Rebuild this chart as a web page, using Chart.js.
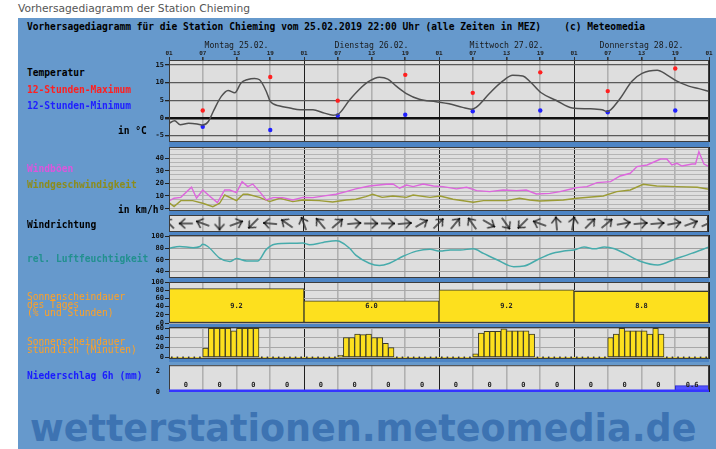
<!DOCTYPE html>
<html>
<head>
<meta charset="utf-8">
<script src="https://cdn.jsdelivr.net/npm/chart.js@4.4.1/dist/chart.umd.min.js"></script>
<style>
  body { margin: 0; width: 716px; height: 449px; overflow: hidden; background: #fff; position: relative; }
  #title { position: absolute; left: 18px; top: 2px; font: 10.7px "DejaVu Sans", sans-serif; color: #555; }
  #frameBg { position: absolute; left: 18px; top: 18px; width: 698px; height: 431px; background: #6699cc; }
  #bands { position: absolute; left: 169px; top: 142px; width: 540px; height: 220px; background: #4d85c5; }
  #watermark { position: absolute; left: 30px; top: 410px; font: bold 36.5px "DejaVu Sans", sans-serif; line-height: 37px; color: #3d73b2; white-space: pre; }
  .lbl { position: absolute; font: bold 9.6px "DejaVu Sans Mono", monospace; line-height: 10px; white-space: pre; }
  .thin { font-weight: normal; line-height: 8.3px; }
  canvas { position: absolute; }
</style>
</head>
<body>
<div id="title">Vorhersagediagramm der Station Chieming</div>
<div id="frameBg"></div>
<div id="bands"></div>
<div id="watermark">wetterstationen.meteomedia.de</div>

<script>
// --------------
// DATA (hours counted from Montag 01:00)
// --------------
const days = ['Montag 25.02.', 'Dienstag 26.02.', 'Mittwoch 27.02.', 'Donnerstag 28.02.'];
const dayCenters = [12, 36, 60, 84];
const hourLabels = ['01', '07', '13', '19'];
const timeTicks = [0, 6, 12, 18, 24, 30, 36, 42, 48, 54, 60, 66, 72, 78, 84, 90, 96];

const tempHours = [0, 1, 2, 3.5, 5, 6, 7, 8, 9.3, 10.5, 11.7, 12.8, 14, 15.2, 16.1, 17.3, 18, 19.7, 21.5, 23.3,
  25.6, 27.4, 29.2, 30, 32.1, 33.9, 35.6, 37.4, 38.9, 40.4, 42.2, 44.5, 47.5, 49.8, 52.2, 53.7, 54.6, 57, 59.3,
  61.1, 62.9, 64.3, 66.1, 68.8, 71.7, 74.6, 77, 77.9, 80, 82.3, 84.1, 86.8, 88.5, 90.3, 92.4, 94.2, 96];
const tempValues = [-1.5, -0.8, -1.9, -1.5, -1.7, -2.0, -1.0, 2.3, 6.1, 7.8, 7.1, 9.9, 10.9, 11.2, 10.8, 7.5, 4.7, 3.4, 2.8, 2.3,
  2.3, 1.5, 0.8, 1.0, 5.1, 8.2, 10.4, 11.5, 11.0, 9.0, 6.9, 5.3, 4.6, 4.0, 3.0, 2.5, 3.0, 7.0, 10.4,
  12.1, 11.9, 10.1, 7.2, 5.0, 2.8, 2.6, 2.3, 1.8, 5.1, 10.4, 12.6, 13.5, 12.2, 10.4, 9.0, 8.3, 7.5];
const extremeHours = [6, 18, 30, 42, 54, 66, 78, 90];
const maxValues = [2.1, 11.6, 4.9, 12.2, 7.1, 12.9, 7.6, 14.0];
const minValues = [-2.5, -3.4, 0.7, 0.9, 1.9, 2.1, 1.6, 2.1];
const tempTicks = [-5, 0, 5, 10, 15];

const gustHours = [0, 0.9, 2.1, 4, 4.9, 6, 7.2, 8.6, 9.9, 10.8, 12, 13, 14, 14.9, 16.1, 17.3, 18.5, 20.2, 22, 23.8,
  25.6, 27.9, 29.7, 31.5, 33.2, 35.6, 38.6, 39.8, 41, 42.2, 43.4, 45.2, 47, 48.7, 51.1, 52.9, 54.7, 57, 59.4,
  61.8, 63.5, 65.3, 67.7, 69.5, 71.3, 72.5, 74.3, 76.1, 78.5, 80.2, 82, 83.2, 85, 87.4, 88.5, 89.4, 90.3, 91.2,
  93, 93.6, 94.2, 95.1, 96];
const gustValues = [5.8, 8, 8.7, 16.8, 8, 14.6, 9.8, 4.5, 14.6, 14.6, 12.5, 21.3, 17.3, 19.4, 13.3, 6.6, 8.5, 8.5, 6.6, 8.7,
  8.5, 10.1, 11.2, 13.3, 15.5, 17.8, 19.2, 19.4, 16, 18.6, 17.3, 19.4, 17.8, 17.3, 15.5, 16.8, 14.1, 13.3, 14.6,
  14.1, 14.6, 11.4, 11.9, 13.3, 15.2, 16.5, 17.3, 20.5, 21.3, 25.8, 28, 33.3, 34.6, 39.4, 39.4, 34.6, 35.9, 33.8,
  35.4, 35.4, 45.3, 35.4, 33.3];
const windHours = [0, 0.9, 2.1, 4.2, 6, 7.8, 9, 9.9, 12, 13.2, 14, 16.1, 17.9, 19.7, 22, 23.8, 26.7, 29.1, 31.5,
  33.2, 35, 36.2, 37.9, 39.8, 42.2, 43.4, 46.4, 48.2, 50.5, 54.1, 55.9, 60, 62.3, 64.1, 65.9, 70.1, 72.5, 77.2,
  79.6, 82, 84.3, 86.7, 90.3, 93.9, 96];
const windValues = [4.5, 1.3, 6.1, 6.1, 4, 1.3, 4, 10.6, 6.1, 11.2, 11.2, 8.7, 5.3, 8, 5.3, 6.6, 6.1, 5, 6.6,
  7.2, 9.3, 11.2, 8.7, 9.8, 8.7, 10.6, 8.7, 9.8, 7.2, 4.8, 6.1, 6.1, 8, 6.6, 5.8, 6.6, 8, 9.8,
  13.3, 14.6, 19.2, 17.8, 17.3, 16.8, 15.2];
const windTicks = [0, 3.333, 6.667, 10, 13.333, 16.667, 20, 23.333, 26.667, 30, 33.333, 36.667, 40, 43.333, 46.667];

// arrow heading in compass degrees (direction the arrow points)
const dirHours = [0, 3, 6, 9, 12, 15, 18, 21, 24, 27, 30, 33, 36, 39, 42, 45, 48, 51, 54, 57, 60, 63, 66, 69, 72,
  75, 78, 81, 84, 87, 90, 93, 96];
const dirHeading = [315, 270, 290, 180, 70, 225, 275, 305, 340, 320, 50, 85, 90, 90, 85, 60, 45, 40, 325, 120, 145,
  225, 290, 355, 10, 45, 50, 80, 85, 85, 80, 70, 65];

const humHours = [0, 1.9, 4.3, 5.5, 6, 6.9, 9, 10.8, 12, 13.8, 15.8, 17.3, 18.8, 22, 23.8, 25, 27.4, 29.7, 30.3,
  32.1, 33.2, 35.6, 37.4, 39.2, 41.6, 44, 46.4, 48.2, 50, 51.8, 54.1, 55.9, 58.3, 61.3, 63.1, 65.5, 67.8, 70.2,
  72, 73.8, 75.6, 77.4, 79.2, 81, 83.9, 86.9, 89.9, 92.9, 96];
const humValues = [80, 83, 81, 83, 87, 83, 63, 57, 62, 58, 58, 78, 87, 88.6, 89, 86, 90, 93, 92,
  80, 68, 54, 50, 54, 66, 75, 78, 75, 77, 77, 79, 71, 60, 48, 49, 60, 70, 75,
  77, 82, 79, 82, 79, 71, 57, 51, 61, 71, 82];
const humTicks = [40, 60, 80, 100];

const sunDayPct = [84, 54, 81, 77];
const sunDayHours = [9.2, 6.0, 9.2, 8.8];
const sunDayTicks = [0, 20, 40, 60, 80, 100];

// minutes of sunshine for every hour, 96 hours
const sunHourly = [
  0, 0, 0, 0, 0, 0, 19, 60, 60, 60, 60, 55, 60, 60, 60, 60, 0, 0, 0, 0, 0, 0, 0, 0,
  0, 0, 0, 0, 0, 0, 4, 41, 41, 48, 47, 48, 41, 41, 29, 20, 0, 0, 0, 0, 0, 0, 0, 0,
  0, 0, 0, 0, 0, 0, 7, 50, 54, 54, 54, 59, 55, 55, 55, 55, 48, 0, 0, 0, 0, 0, 0, 0,
  0, 0, 0, 0, 0, 0, 41, 48, 60, 55, 55, 55, 55, 48, 60, 48, 0, 0, 0, 0, 0, 0, 0, 0];
const sunHourTicks = [0, 20, 40, 60];

const precip = [0, 0, 0, 0, 0, 0, 0, 0, 0, 0, 0, 0, 0, 0, 0, 0.6];
const precipTicks = [0, 2];

// --------------
// LAYOUT
// --------------
const CANVAS_LEFT = 129, CANVAS_W = 587, AXIS_W = 40, PAD_R = 7;
const tickFont = { family: 'DejaVu Sans Mono', size: 7, weight: 'bold' };

function pts(xs, ys) {
  return xs.map((x, i) => ({ x: x, y: ys[i] }));
}

function makeCanvas(areaTop, areaBottom, extraTop, extraBottom) {
  const c = document.createElement('canvas');
  c.width = CANVAS_W;
  c.height = areaBottom - areaTop + extraTop + extraBottom;
  c.style.left = CANVAS_LEFT + 'px';
  c.style.top = (areaTop - extraTop) + 'px';
  document.body.appendChild(c);
  return c;
}

function isDay(v) { return Math.abs(v % 24) < 0.01; }

function xAxis(extra) {
  return Object.assign({
    type: 'linear', min: 0, max: 96, offset: false,
    afterBuildTicks: s => { s.ticks = timeTicks.map(v => ({ value: v })); },
    afterFit: s => { s.height = 0; },
    border: { display: false },
    grid: {
      offset: false, drawTicks: false,
      color: ctx => isDay(ctx.tick.value) ? '#1e1e1e' : '#b0b0b0',
      lineWidth: ctx => isDay(ctx.tick.value) ? 1 : 1.6
    },
    ticks: { display: false }
  }, extra || {});
}

function yAxis(min, max, ticks, o) {
  o = o || {};
  return {
    min: min, max: max,
    afterFit: s => { s.width = AXIS_W; },
    afterBuildTicks: s => { s.ticks = ticks.map(v => ({ value: v })); },
    border: { display: false },
    grid: {
      display: o.grid !== false,
      drawOnChartArea: o.area !== false,
      color: o.color || '#a0a0a0',
      lineWidth: o.width || 1,
      tickLength: o.tickLength === undefined ? 4 : o.tickLength,
      tickColor: o.tickColor || '#222'
    },
    ticks: {
      display: o.labels !== false, autoSkip: false, padding: o.padding || 1,
      color: '#111', font: tickFont,
      callback: o.label || (v => v)
    }
  };
}

function baseOptions(padTop, padBottom, scales, plugins) {
  return {
    responsive: false, maintainAspectRatio: false, animation: false,
    layout: { padding: { top: padTop, bottom: padBottom, left: 0, right: PAD_R } },
    plugins: Object.assign({ legend: { display: false }, tooltip: { enabled: false } }, plugins || {}),
    scales: scales
  };
}

// panel background + border
Chart.register({
  id: 'panelFrame',
  beforeDraw(chart) {
    const { ctx, chartArea: a } = chart;
    ctx.save();
    ctx.fillStyle = '#dedede';
    ctx.fillRect(a.left, a.top, a.width, a.height);
    ctx.restore();
  },
  afterDraw(chart, args, opts) {
    const { ctx, chartArea: a } = chart;
    ctx.save();
    ctx.strokeStyle = '#3c3c3c';
    ctx.lineWidth = 1;
    ctx.strokeRect(a.left + 0.5, a.top + 0.5, a.width - 1, a.height - 1);
    if (opts.baseColor) {
      ctx.strokeStyle = opts.baseColor;
      ctx.lineWidth = 2.5;
      ctx.beginPath();
      ctx.moveTo(a.left, a.bottom - 1);
      ctx.lineTo(a.right, a.bottom - 1);
      ctx.stroke();
    }
    ctx.restore();
  }
});

function valueLabels(values, centers, yValue, fmt) {
  return {
    id: 'valueLabels',
    afterDatasetsDraw(chart) {
      const { ctx, scales } = chart;
      ctx.save();
      ctx.font = 'bold 7px "DejaVu Sans Mono"';
      ctx.fillStyle = '#222';
      ctx.textAlign = 'center';
      ctx.textBaseline = 'middle';
      values.forEach((v, i) => {
        ctx.fillText(fmt(v), scales.x.getPixelForValue(centers[i]), scales.y.getPixelForValue(yValue));
      });
      ctx.restore();
    }
  };
}

// --------------
// TEMPERATURE
// --------------
new Chart(makeCanvas(60, 142, 24, 10), {
  type: 'line',
  data: {
    datasets: [
      { data: pts(tempHours, tempValues), borderColor: '#505050', borderWidth: 1.5, pointRadius: 0, cubicInterpolationMode: 'monotone' },
      { data: pts(extremeHours, maxValues), showLine: false, pointRadius: 2.2, pointBackgroundColor: '#ff2020', pointBorderWidth: 0 },
      { data: pts(extremeHours, minValues), showLine: false, pointRadius: 2.2, pointBackgroundColor: '#2020ff', pointBorderWidth: 0 }
    ]
  },
  options: baseOptions(0, 10, {
    x: xAxis({
      position: 'top', weight: 0,
      afterFit: s => { s.height = 9; },
      grid: {
        offset: false, drawTicks: true, tickLength: 3, tickColor: '#333',
        color: ctx => isDay(ctx.tick.value) ? '#1e1e1e' : '#b0b0b0',
        lineWidth: ctx => isDay(ctx.tick.value) ? 1 : 1.6
      },
      ticks: {
        display: true, padding: 0, maxRotation: 0, autoSkip: false, color: '#222',
        font: { family: 'DejaVu Sans Mono', size: 6, weight: 'bold' },
        callback: v => hourLabels[Math.round(v / 6) % 4]
      }
    }),
    xDays: {
      type: 'linear', position: 'top', weight: 1, min: 0, max: 96, offset: false,
      afterBuildTicks: s => { s.ticks = dayCenters.map(v => ({ value: v })); },
      afterFit: s => { s.height = 15; },
      border: { display: false },
      grid: { display: false, drawTicks: false },
      ticks: {
        padding: 0, maxRotation: 0, autoSkip: false, color: '#1a1a1a',
        font: { family: 'DejaVu Sans Mono', size: 8.2 },
        callback: v => days[dayCenters.indexOf(v)]
      }
    },
    y: yAxis(-6.8, 16.4, tempTicks, {
      color: ctx => ctx.tick.value === 0 ? '#111' : '#5a5a5a',
      width: ctx => ctx.tick.value === 0 ? 2.4 : 1.3
    })
  })
});

// --------------
// WIND
// --------------
const isMajorWind = v => Math.abs(v / 10 - Math.round(v / 10)) < 0.01;
new Chart(makeCanvas(147, 211, 10, 10), {
  type: 'line',
  data: {
    datasets: [
      { data: pts(gustHours, gustValues), borderColor: '#dd66dd', borderWidth: 1.4, pointRadius: 0 },
      { data: pts(windHours, windValues), borderColor: '#9c9c35', borderWidth: 1.4, pointRadius: 0 }
    ]
  },
  options: baseOptions(10, 10, {
    x: xAxis(),
    y: yAxis(-2.2, 49, windTicks, {
      color: '#b4b4b4',
      tickColor: ctx => isMajorWind(ctx.tick.value) ? '#222' : 'rgba(0,0,0,0)',
      label: v => isMajorWind(v) ? Math.round(v) : ''
    })
  })
});

// --------------
// WIND DIRECTION
// --------------
function arrowImage() {
  const c = document.createElement('canvas');
  c.width = 16; c.height = 16;
  const g = c.getContext('2d');
  g.strokeStyle = '#333';
  g.lineWidth = 1.5;
  g.lineCap = 'round';
  g.beginPath();
  g.moveTo(1.5, 8); g.lineTo(14, 8);
  g.moveTo(9, 3.5); g.lineTo(14, 8); g.lineTo(9, 12.5);
  g.stroke();
  g.fillStyle = '#111';
  g.fillRect(13, 7, 2, 2);
  return c;
}
const arrowImg = arrowImage();

new Chart(makeCanvas(215, 232, 10, 10), {
  type: 'line',
  data: {
    datasets: [{
      data: dirHours.map(h => ({ x: h, y: 0 })),
      showLine: false, pointRadius: 7,
      pointStyle: arrowImg,
      pointRotation: ctx => dirHeading[ctx.dataIndex] - 90
    }]
  },
  options: baseOptions(10, 10, {
    x: xAxis(),
    y: yAxis(-1, 1, [], { grid: false, labels: false })
  })
});

// --------------
// HUMIDITY
// --------------
new Chart(makeCanvas(235, 278, 10, 10), {
  type: 'line',
  data: {
    datasets: [
      { data: pts(humHours, humValues), borderColor: '#46abab', borderWidth: 1.5, pointRadius: 0, cubicInterpolationMode: 'monotone' }
    ]
  },
  options: baseOptions(10, 10, {
    x: xAxis(),
    y: yAxis(28.4, 102.9, humTicks, { color: '#a0a0a0' })
  })
});

// --------------
// SUNSHINE PER DAY
// --------------
new Chart(makeCanvas(282, 323, 10, 10), {
  type: 'bar',
  data: {
    datasets: [{
      data: pts(dayCenters, sunDayPct),
      backgroundColor: '#fde01e', borderColor: '#3a3a2a', borderWidth: 1, borderSkipped: false,
      barThickness: 135
    }]
  },
  options: baseOptions(10, 10, {
    x: xAxis(),
    y: yAxis(0, 100, sunDayTicks, { color: '#a8a8a8' })
  }),
  plugins: [valueLabels(sunDayHours, dayCenters, 40, v => v.toFixed(1))]
});

// --------------
// SUNSHINE PER HOUR
// --------------
const hourCenters = sunHourly.map((v, i) => i + 0.5);
const zeroSun = hourCenters.filter((h, i) => sunHourly[i] === 0);
new Chart(makeCanvas(327, 359, 10, 10), {
  type: 'bar',
  data: {
    datasets: [
      {
        type: 'line', data: zeroSun.map(h => ({ x: h, y: 0 })), showLine: false,
        pointStyle: 'rect', pointRadius: 1.1, pointBackgroundColor: '#333', pointBorderWidth: 0
      },
      {
        data: pts(hourCenters, sunHourly),
        backgroundColor: '#fde01e', borderColor: '#3a3a2a', borderSkipped: false,
        borderWidth: ctx => sunHourly[ctx.dataIndex] > 0 ? 1 : 0,
        categoryPercentage: 1, barPercentage: 1
      }
    ]
  },
  options: baseOptions(10, 10, {
    x: xAxis(),
    y: yAxis(-3.5, 62.7, sunHourTicks, { color: '#a8a8a8' })
  })
});

// --------------
// PRECIPITATION
// --------------
const precipCenters = precip.map((v, i) => i * 6 + 3);
new Chart(makeCanvas(362, 395, 10, 10), {
  type: 'bar',
  data: {
    datasets: [{
      data: pts(precipCenters, precip),
      backgroundColor: '#5252ff', borderColor: '#2a2ad0', borderSkipped: false,
      borderWidth: ctx => precip[ctx.dataIndex] > 0 ? 1 : 0,
      categoryPercentage: 1, barPercentage: 1
    }]
  },
  options: baseOptions(10, 10, {
    x: xAxis(),
    y: yAxis(0, 2.6, precipTicks, { area: false, tickLength: 0, padding: 9 })
  }, { panelFrame: { baseColor: '#3535ff' } }),
  plugins: [valueLabels(precip, precipCenters, 0.6, v => v === 0 ? '0' : v.toFixed(1))]
});

// --------------
// LEFT TEXTS
// --------------
const texts = [
  ['Vorhersagediagramm für die Station Chieming vom 25.02.2019 22:00 Uhr (alle Zeiten in MEZ)    (c) Meteomedia', 27, 22, '#000'],
  ['Temperatur', 27, 68, '#000'],
  ['12-Stunden-Maximum', 27, 85, '#ff2020'],
  ['12-Stunden-Minimum', 27, 101, '#2020ff'],
  ['in °C', 118, 126, '#000'],
  ['Windböen', 27, 164, '#dd55dd'],
  ['Windgeschwindigkeit', 27, 180, '#8c8c1c'],
  ['in km/h', 118, 205, '#000'],
  ['Windrichtung', 27, 220, '#000'],
  ['rel. Luftfeuchtigkeit', 27, 254, '#22908f']
];
texts.forEach(([t, x, y, c]) => {
  const d = document.createElement('div');
  d.className = 'lbl';
  d.textContent = t;
  d.style.left = x + 'px';
  d.style.top = y + 'px';
  d.style.color = c;
  document.body.appendChild(d);
});
const thinTexts = [
  ['Sonnenscheindauer\ndes Tages\n(% und Stunden)', 27, 292.5, '#ffa124'],
  ['Sonnenscheindauer\nstündlich (Minuten)', 27, 338, '#ffa124']
];
thinTexts.forEach(([t, x, y, c]) => {
  const d = document.createElement('div');
  d.className = 'lbl thin';
  d.textContent = t;
  d.style.left = x + 'px';
  d.style.top = y + 'px';
  d.style.color = c;
  document.body.appendChild(d);
});
const rain = document.createElement('div');
rain.className = 'lbl';
rain.textContent = 'Niederschlag 6h (mm)';
rain.style.left = '27px';
rain.style.top = '371px';
rain.style.color = '#1a1aff';
document.body.appendChild(rain);
</script>
</body>
</html>
